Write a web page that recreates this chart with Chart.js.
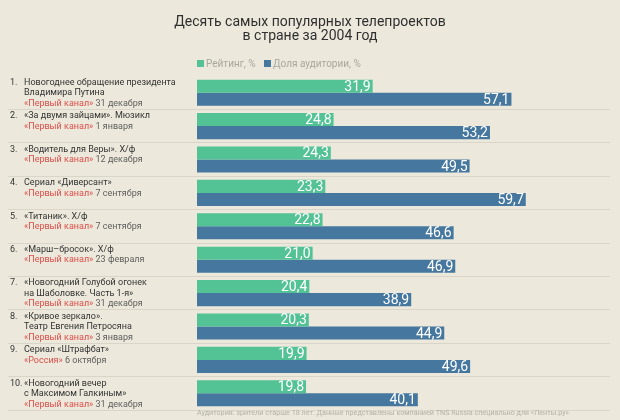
<!DOCTYPE html>
<html>
<head>
<meta charset="utf-8">
<script src="https://cdn.jsdelivr.net/npm/chart.js@4"></script>
<style>
  body { margin: 0; background: #ece9dc; }
  #wrap { width: 620px; height: 420px; }
</style>
</head>
<body>
<div id="wrap"><canvas id="myChartTop"></canvas></div>
<script>
var titles = [
    ['Новогоднее обращение президента', 'Владимира Путина'],
    ['«За двумя зайцами». Мюзикл'],
    ['«Водитель для Веры». Х/ф'],
    ['Сериал «Диверсант»'],
    ['«Титаник». Х/ф'],
    ['«Марш–бросок». Х/ф'],
    ['«Новогодний Голубой огонек', 'на Шаболовке. Часть 1-я»'],
    ['«Кривое зеркало».', 'Театр Евгения Петросяна'],
    ['Сериал «Штрафбат»'],
    ['«Новогодний вечер', 'с Максимом Галкиным»']
];
var channels = ['«Первый канал»', '«Первый канал»', '«Первый канал»', '«Первый канал»', '«Первый канал»',
    '«Первый канал»', '«Первый канал»', '«Первый канал»', '«Россия»', '«Первый канал»'];
var dates = ['31 декабря', '1 января', '12 декабря', '7 сентября', '7 сентября',
    '23 февраля', '31 декабря', '3 января', '6 октября', '31 декабря'];
var rating = [31.9, 24.8, 24.3, 23.3, 22.8, 21.0, 20.4, 20.3, 19.9, 19.8];
var share = [57.1, 53.2, 49.5, 59.7, 46.6, 46.9, 38.9, 44.9, 49.6, 40.1];

var chartTitle = ['Десять самых популярных телепроектов', 'в стране за 2004 год'];
var legendNames = ['Рейтинг, %', 'Доля аудитории, %'];
var footnote = 'Аудитория: зрители старше 18 лет. Данные представлены компанией TNS Russia специально для «Ленты.ру»';

var green = '#53c295';
var blue = '#46779f';
var FONT = 'Roboto, "Open Sans", sans-serif';

function fmt(v) {
    return v.toFixed(1).replace('.', ',');
}

// titles, legend, labels on the left, footnote
var textPlugin = {
    id: 'texts',
    afterDraw: function (chart) {
        var c = chart.ctx;
        var yScale = chart.scales.y;
        c.save();

        c.fillStyle = '#2f2f2f';
        c.textAlign = 'center';
        c.textBaseline = 'middle';
        c.font = '14px ' + FONT;
        c.fillText(chartTitle[0], 310, 22);
        c.fillText(chartTitle[1], 310, 36);

        c.textAlign = 'left';
        c.font = '10px ' + FONT;
        c.fillStyle = green;
        c.fillRect(197, 60, 7, 7);
        c.fillStyle = '#a8a69e';
        c.fillText(legendNames[0], 206, 64);
        c.fillStyle = blue;
        c.fillRect(264, 60, 7, 7);
        c.fillStyle = '#a8a69e';
        c.fillText(legendNames[1], 273, 64);

        c.font = '9px ' + FONT;
        for (var i = 0; i < titles.length; i++) {
            var top = yScale.getPixelForValue(i) - 13;
            var y = top + 3;
            c.fillStyle = '#333';
            c.fillText((i + 1) + '.', 10, y);
            for (var j = 0; j < titles[i].length; j++) {
                c.fillText(titles[i][j], 24, y);
                y += 10.5;
            }
            c.fillStyle = '#dd4f4a';
            c.fillText(channels[i], 24, y);
            var w = c.measureText(channels[i] + ' ').width;
            c.fillStyle = '#5e5e5e';
            c.fillText(dates[i], 24 + w, y);
        }

        c.font = '7.2px ' + FONT;
        c.fillStyle = '#b3b0a6';
        c.fillText(footnote, 197, 413);
        c.restore();
    }
};

// numbers inside bar ends
var valuePlugin = {
    id: 'values',
    afterDatasetsDraw: function (chart) {
        var c = chart.ctx;
        c.save();
        c.font = '14px ' + FONT;
        c.fillStyle = '#ffffff';
        c.textAlign = 'right';
        c.textBaseline = 'middle';
        chart.data.datasets.forEach(function (ds, k) {
            chart.getDatasetMeta(k).data.forEach(function (bar, i) {
                c.fillText(fmt(ds.data[i]), bar.x - 2, bar.y + 1);
            });
        });
        c.restore();
    }
};

const ctx = document.getElementById('myChartTop');

new Chart(ctx, {
    type: 'bar',
    data: {
        labels: titles.map(function (t) { return t.join(' '); }),
        datasets: [
            {
                label: legendNames[0],
                data: rating,
                backgroundColor: green,
                categoryPercentage: 0.78,
                barPercentage: 1.0
            },
            {
                label: legendNames[1],
                data: share,
                backgroundColor: blue,
                categoryPercentage: 0.78,
                barPercentage: 1.0
            }
        ]
    },
    options: {
        indexAxis: 'y',
        responsive: true,
        maintainAspectRatio: false,
        animation: false,
        layout: {
            padding: { top: 76, bottom: 10, left: 8, right: 10 }
        },
        plugins: {
            legend: { display: false },
            tooltip: { enabled: false }
        },
        scales: {
            x: {
                display: false,
                min: 0,
                max: 75
            },
            y: {
                border: { display: false },
                ticks: { display: false },
                grid: {
                    offset: true,
                    tickLength: 189,
                    color: function (c) {
                        return (c.index === 0 || c.index === titles.length) ? 'rgba(0,0,0,0)' : '#d9d5c8';
                    }
                }
            }
        }
    },
    plugins: [textPlugin, valuePlugin]
});
</script>
</body>
</html>
